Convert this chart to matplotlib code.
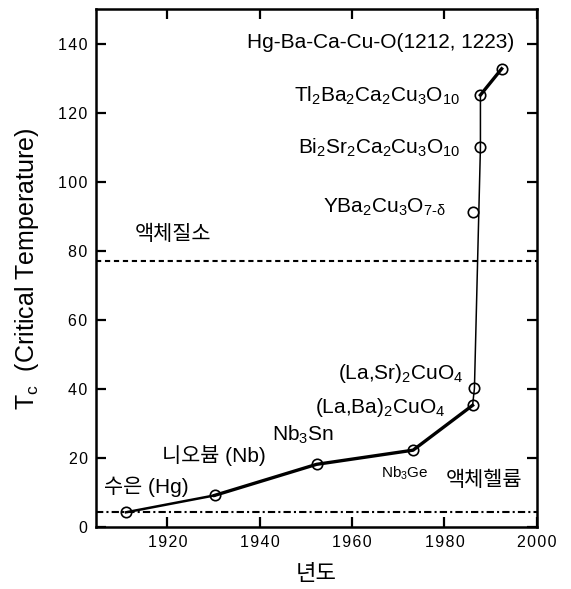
import matplotlib
matplotlib.use("Agg")
import matplotlib.pyplot as plt
from matplotlib.ticker import FuncFormatter

plt.rcParams['font.family'] = ['Liberation Sans', 'Noto Sans CJK KR', 'DejaVu Sans']
plt.rcParams['mathtext.fontset'] = 'custom'
plt.rcParams['mathtext.rm'] = 'Liberation Sans'
plt.rcParams['mathtext.it'] = 'Liberation Sans:italic'

# main curve (year, Tc)
years = [1911, 1930.2, 1952.3, 1973.2, 1986.1, 1986.5, 1987.8, 1987.8, 1992.4]
tc = [4.3, 9.2, 18.2, 22.3, 35.3, 40.2, 110, 125.2, 132.8]
# YBCO sits off the curve
ybco_year = [1986.1]
ybco_tc = [91.3]

n2_temp = 77
he_temp = 4.5

labels = [
    ("Hg-Ba-Ca-Cu-O(1212, 1223)", 1937.2, 140.3, 15, 'left'),
    (r"Tl$_\mathregular{2}$Ba$_\mathregular{2}$Ca$_\mathregular{2}$Cu$_\mathregular{3}$O$_\mathregular{10}$", 1983.4, 125, 15, 'right'),
    (r"Bi$_\mathregular{2}$Sr$_\mathregular{2}$Ca$_\mathregular{2}$Cu$_\mathregular{3}$O$_\mathregular{10}$", 1983.4, 110, 15, 'right'),
    (r"YBa$_\mathregular{2}$Cu$_\mathregular{3}$O$_\mathregular{7\text{-}\delta}$", 1980.2, 92.6, 15, 'right'),
    (r"(La,Sr)$_\mathregular{2}$CuO$_\mathregular{4}$", 1984.2, 44.5, 15, 'right'),
    (r"(La,Ba)$_\mathregular{2}$CuO$_\mathregular{4}$", 1980.2, 34.8, 15, 'right'),
    (r"Nb$_\mathregular{3}$Sn", 1942.7, 26.6, 15, 'left'),
    ("니오븀 (Nb)", 1918.8, 20.8, 15, 'left'),
    ("수은 (Hg)", 1906.2, 11.6, 15, 'left'),
    (r"Nb$_\mathregular{3}$Ge", 1966.2, 15.5, 11, 'left'),
    ("액체헬륨", 1980.2, 13.5, 15, 'left'),
    ("액체질소", 1913, 84.8, 15, 'left'),
]

fig = plt.figure(figsize=(5.71, 5.89), dpi=100)
ax = fig.add_axes([0.168, 0.105, 0.772, 0.879])

ax.axhline(n2_temp, color='black', lw=1.5, ls=(0, (2.5, 1.8)))
ax.axhline(he_temp, color='black', lw=1.5, ls=(0, (3.5, 1.5, 1, 1.5)))

# thin first segment, thick low-Tc part, thin vertical jump, thick top
ax.plot(years[:2], tc[:2], color='black', lw=1.8)
ax.plot(years[1:5], tc[1:5], color='black', lw=2.4)
ax.plot(years[4:8], tc[4:8], color='black', lw=1.1)
ax.plot(years[7:], tc[7:], color='black', lw=2.4)
ax.plot(years, tc, ls='none', marker='o', ms=7.5, mfc='none', mec='black', mew=1.2)
ax.plot(ybco_year, ybco_tc, ls='none', marker='o', ms=7.5, mfc='none', mec='black', mew=1.2)

for txt, x, y, fs, ha in labels:
    ax.text(x, y, txt, fontsize=fs, ha=ha, va='center')

ax.set_xlim(1904.5, 2000)
ax.set_ylim(0, 150)
ax.set_xticks([1920, 1940, 1960, 1980, 2000])
ax.set_yticks([0, 20, 40, 60, 80, 100, 120, 140])
spaced = FuncFormatter(lambda v, p: '\u200a'.join(str(int(v))))
ax.xaxis.set_major_formatter(spaced)
ax.yaxis.set_major_formatter(spaced)
ax.tick_params(direction='in', length=7, width=1.6, top=True, right=True, labelsize=11.5, pad=6)
for s in ax.spines.values():
    s.set_linewidth(1.8)

ax.set_ylabel(r"T$_\mathregular{c}$  (Critical Temperature)", fontsize=18, labelpad=12)
ax.set_xlabel("년도", fontsize=16, labelpad=10)

fig.savefig("out.png", dpi=100)
